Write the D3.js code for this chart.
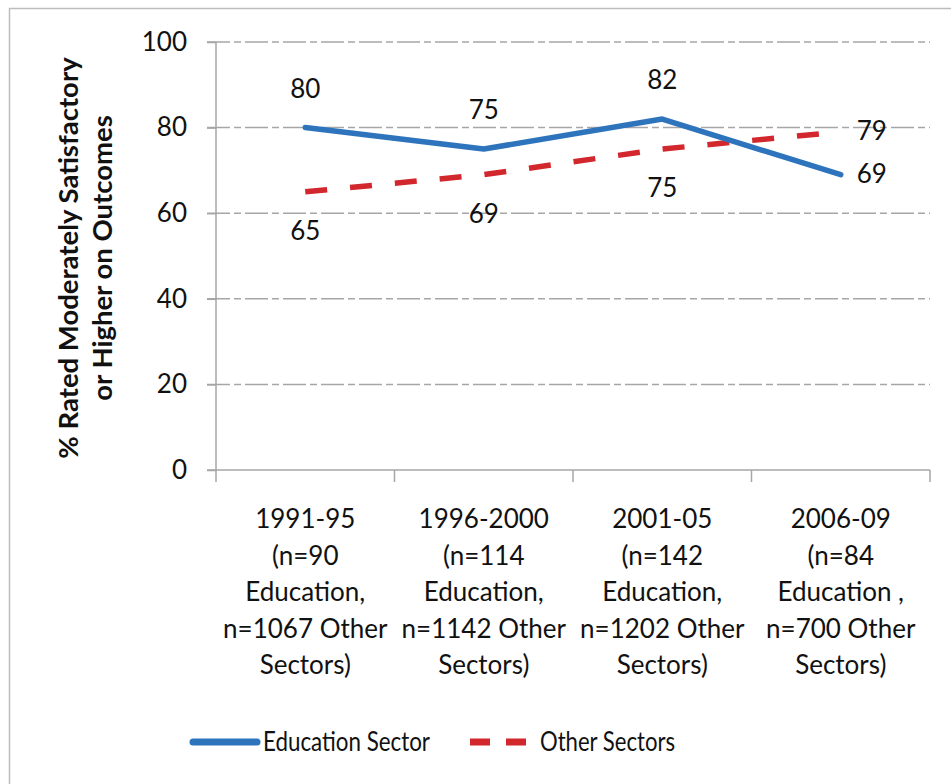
<!DOCTYPE html>
<html>
<head>
<meta charset="utf-8">
<script src="https://cdn.jsdelivr.net/npm/d3@7"></script>
<style>
  html, body { margin: 0; padding: 0; background: #fff; }
  svg { display: block; font-family: Lato, "Open Sans", sans-serif; }
</style>
</head>
<body>
<svg id="chart" width="951" height="784"></svg>
<script>
// ---- Data ----
const categories = ["1991-95", "1996-2000", "2001-05", "2006-09"];
const categoryLabels = [
  ["1991-95", "(n=90", "Education,", "n=1067 Other", "Sectors)"],
  ["1996-2000", "(n=114", "Education,", "n=1142 Other", "Sectors)"],
  ["2001-05", "(n=142", "Education,", "n=1202 Other", "Sectors)"],
  ["2006-09", "(n=84", "Education ,", "n=700 Other", "Sectors)"]
];
const educationValues = [80, 75, 82, 69];
const otherValues = [65, 69, 75, 79];
const educationLabelPos = ["above", "above", "above", "right"];
const otherLabelPos = ["below", "below", "below", "right"];
const yTicks = [0, 20, 40, 60, 80, 100];
const seriesNames = ["Education Sector", "Other Sectors"];
const yAxisTitle = ["% Rated Moderately Satisfactory", "or Higher on Outcomes"];

// ---- Layout ----
const svg = d3.select("#chart");
const plot = { left: 216, right: 930, top: 42, bottom: 470 };
const blue = "#2E74BD";
const red = "#D3272E";
const grid = "#A6A6A6";
const textColor = "#111";

// outer border
svg.append("rect")
  .attr("x", 9.5).attr("y", 8.5).attr("width", 1000).attr("height", 1000)
  .attr("fill", "none").attr("stroke", "#BDBDBD").attr("stroke-width", 1.5);

const x = d3.scaleBand().domain(categories).range([plot.left, plot.right]).paddingInner(0).paddingOuter(0);
const y = d3.scaleLinear().domain([0, 100]).range([plot.bottom, plot.top]);
const cx = c => x(c) + x.bandwidth() / 2;

// gridlines (dash-dot)
svg.append("g").selectAll("line")
  .data(yTicks.filter(t => t > 0))
  .join("line")
  .attr("x1", plot.left - 9).attr("x2", plot.right)
  .attr("y1", d => y(d)).attr("y2", d => y(d))
  .attr("stroke", grid).attr("stroke-width", 1.5)
  .attr("stroke-dasharray", "23,4,7,4");

// y axis
const yAxis = d3.axisLeft(y).tickValues(yTicks).tickSize(9).tickPadding(20);
const gy = svg.append("g").attr("transform", `translate(${plot.left},0)`).call(yAxis);
gy.select(".domain").attr("stroke", grid).attr("stroke-width", 1.5).attr("d", `M0,${plot.top}V${plot.bottom}`);
gy.selectAll(".tick line").attr("stroke", grid).attr("stroke-width", 1.5);
gy.selectAll(".tick text").attr("fill", textColor).attr("font-size", 26)
  .attr("font-family", "Lato, sans-serif");

// x axis
const xTickPositions = [plot.left, ...categories.map(c => x(c) + x.bandwidth())];
const gx = svg.append("g");
gx.append("line").attr("x1", plot.left - 9).attr("x2", plot.right)
  .attr("y1", plot.bottom).attr("y2", plot.bottom)
  .attr("stroke", grid).attr("stroke-width", 1.5);
gx.selectAll("line.tk").data(xTickPositions).join("line").attr("class", "tk")
  .attr("x1", d => d).attr("x2", d => d)
  .attr("y1", plot.bottom).attr("y2", plot.bottom + 12)
  .attr("stroke", grid).attr("stroke-width", 1.5);

// category labels
const catG = svg.append("g");
categories.forEach((c, i) => {
  const t = catG.append("text")
    .attr("x", cx(c)).attr("y", 528)
    .attr("text-anchor", "middle").attr("font-size", 26).attr("fill", textColor);
  categoryLabels[i].forEach((line, j) => {
    t.append("tspan").attr("x", cx(c)).attr("y", 528 + j * 36.5).text(line);
  });
});

// y axis title
yAxisTitle.forEach((line, j) => {
  svg.append("text")
    .attr("transform", `translate(${78 + j * 34},258) rotate(-90)`)
    .attr("font-size", 27.5).attr("font-weight", "bold").attr("fill", textColor)
    .attr("text-anchor", "middle").text(line);
});

// lines
const lineGen = d3.line().x((d, i) => cx(categories[i])).y(d => y(d));
svg.append("path").datum(otherValues)
  .attr("d", lineGen).attr("fill", "none").attr("stroke", red)
  .attr("stroke-width", 5.5).attr("stroke-dasharray", "22,23");
svg.append("path").datum(educationValues)
  .attr("d", lineGen).attr("fill", "none").attr("stroke", blue)
  .attr("stroke-width", 5.5).attr("stroke-linejoin", "round").attr("stroke-linecap", "round");

// data labels
function addLabels(values, positions) {
  values.forEach((v, i) => {
    const px = cx(categories[i]), py = y(v);
    const pos = positions[i];
    let tx = px, ty = py, anchor = "middle";
    if (pos === "above") ty = py - 30;
    else if (pos === "below") ty = py + 48;
    else if (pos === "right") { tx = px + 16; ty = py + 8; anchor = "start"; }
    svg.append("text").attr("x", tx).attr("y", ty)
      .attr("text-anchor", anchor).attr("font-size", 26).attr("fill", textColor)
      .text(v);
  });
}
addLabels(educationValues, educationLabelPos);
addLabels(otherValues, otherLabelPos);

// legend
const lg = svg.append("g");
lg.append("line").attr("x1", 193).attr("x2", 257).attr("y1", 742).attr("y2", 742)
  .attr("stroke", blue).attr("stroke-width", 7).attr("stroke-linecap", "round");
lg.append("text").attr("x", 263).attr("y", 751).attr("font-size", 26).attr("fill", textColor)
  .attr("textLength", 167).attr("lengthAdjust", "spacingAndGlyphs").text(seriesNames[0]);
lg.append("line").attr("x1", 470).attr("x2", 526).attr("y1", 742).attr("y2", 742)
  .attr("stroke", red).attr("stroke-width", 7).attr("stroke-dasharray", "20,16").attr("stroke-linecap", "butt");
lg.append("text").attr("x", 540).attr("y", 751).attr("font-size", 26).attr("fill", textColor)
  .attr("textLength", 135).attr("lengthAdjust", "spacingAndGlyphs").text(seriesNames[1]);
</script>
</body>
</html>
